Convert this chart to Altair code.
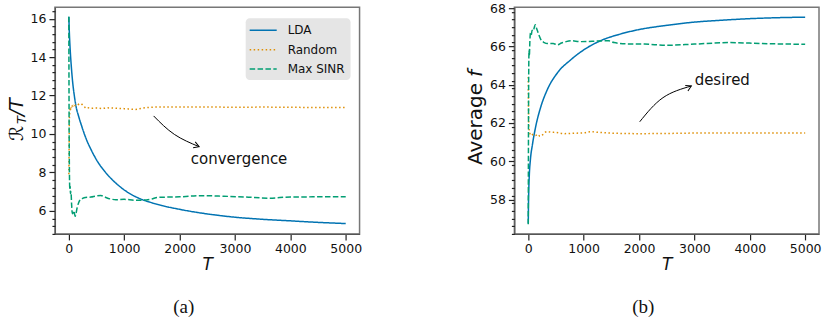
import altair as alt
import pandas as pd

SERIES = ["LDA", "Random", "Max SINR"]
COLORS = ["#0173B2", "#DE8F05", "#029E73"]
DASHES = [[1, 0], [1.5, 2.5], [5.5, 2.4]]

# ---------------- panel (a): R_T / T ----------------
a_lda_T = [1, 10, 25, 41, 70, 100, 130, 180, 240, 300, 400, 534, 650, 775, 900, 1015,
           1150, 1315, 1500, 1675, 2000, 2500, 3000, 3500, 4000, 4500, 5000]
a_lda_v = [16.1, 15.3, 14.4, 13.7, 12.7, 12.0, 11.45, 10.9, 10.35, 9.85, 9.2, 8.5,
           8.05, 7.65, 7.32, 7.06, 6.82, 6.6, 6.42, 6.28, 6.08, 5.84, 5.67, 5.56,
           5.48, 5.4, 5.34]

a_rnd_T = [1, 5, 10, 15, 20, 30, 40, 50, 60, 80, 100, 120, 150, 180, 220, 250, 280,
           320, 360, 400, 500, 600, 700, 800, 900, 1000, 1100, 1200, 1300, 1400, 1600,
           2000, 2500, 3000, 3500, 4000, 4500, 5000]
a_rnd_v = [7.9, 9.0, 10.6, 11.0, 11.2, 11.4, 11.3, 11.45, 11.35, 11.5, 11.42, 11.5,
           11.48, 11.55, 11.58, 11.5, 11.42, 11.33, 11.36, 11.34, 11.35, 11.33, 11.36,
           11.35, 11.33, 11.32, 11.3, 11.28, 11.33, 11.37, 11.4, 11.4, 11.41, 11.39,
           11.4, 11.39, 11.38, 11.38]

a_max_T = [1, 3, 6, 10, 15, 20, 25, 30, 40, 50, 60, 70, 85, 100, 115, 130, 150, 175,
           200, 250, 300, 400, 500, 580, 650, 750, 850, 1000, 1200, 1400, 1500, 1600,
           2000, 2400, 2800, 3200, 3600, 4000, 4500, 5000]
a_max_v = [16.1, 13.5, 10.5, 8.5, 7.4, 7.1, 7.3, 6.9, 7.0, 6.4, 5.95, 5.85, 6.0, 5.9,
           5.72, 5.85, 6.15, 6.4, 6.55, 6.65, 6.7, 6.72, 6.78, 6.8, 6.72, 6.62, 6.58,
           6.6, 6.55, 6.57, 6.62, 6.7, 6.73, 6.79, 6.76, 6.72, 6.66, 6.72, 6.73, 6.74]

# ---------------- panel (b): average f ----------------
b_lda_T = [1, 5, 10, 20, 40, 78, 138, 228, 348, 528, 768, 1008, 1308, 1668, 2000,
           2500, 3000, 3500, 4000, 4500, 5000]
b_lda_v = [56.74, 57.8, 58.5, 59.3, 60.1, 60.9, 61.85, 62.85, 63.76, 64.62, 65.3,
           65.83, 66.3, 66.65, 66.88, 67.1, 67.27, 67.37, 67.45, 67.5, 67.53]

b_rnd_T = [1, 3, 6, 10, 20, 40, 60, 80, 113, 140, 180, 210, 260, 300, 348, 400, 500,
           650, 800, 1000, 1135, 1300, 1490, 2000, 2500, 3000, 4000, 5000]
b_rnd_v = [64.4, 63.5, 62.5, 61.8, 61.6, 61.4, 61.45, 61.38, 61.33, 61.35, 61.4, 61.3,
           61.38, 61.5, 61.55, 61.52, 61.5, 61.44, 61.46, 61.48, 61.54, 61.5, 61.47,
           61.44, 61.45, 61.47, 61.48, 61.48]

b_max_T = [1, 5, 10, 15, 20, 30, 40, 55, 70, 90, 110, 128, 150, 180, 228, 290, 348,
           450, 528, 600, 650, 768, 950, 1250, 1450, 1550, 1800, 2100, 2500, 3000,
           3650, 4200, 5000]
b_max_v = [56.7, 62.0, 65.0, 65.8, 65.5, 66.3, 66.7, 66.6, 66.85, 66.8, 67.0, 67.13,
           66.95, 66.7, 66.36, 66.2, 66.15, 66.15, 66.08, 66.18, 66.22, 66.3, 66.25,
           66.28, 66.3, 66.2, 66.13, 66.12, 66.06, 66.12, 66.2, 66.15, 66.11]

# axes
x_domain = [-250, 5250]
x_ticks = [0, 1000, 2000, 3000, 4000, 5000]
a_domain = [4.8, 16.6]
a_ticks = [6, 8, 10, 12, 14, 16]
b_domain = [56.2, 68.05]
b_ticks = [58, 60, 62, 64, 66, 68]

# annotations (data coordinates)
a_arrow_T = [1532, 1906, 2353]
a_arrow_v = [10.94, 9.98, 9.34]
a_note = ["convergence"]
a_note_T = [2204]
a_note_v = [8.46]
b_arrow_T = [2013, 2433, 2945]
b_arrow_v = [62.06, 63.32, 63.93]
b_note = ["desired"]
b_note_T = [3005]
b_note_v = [63.98]
captions = ["(a)", "(b)"]

W, H = 305, 227
FONT = "DejaVu Sans"


def series_frame(parts):
    rows = []
    for name, T, v in parts:
        for t, y in zip(T, v):
            rows.append({"T": t, "v": y, "series": name})
    return pd.DataFrame(rows)


def minor_values(domain, major):
    vals = []
    k = 0
    while True:
        val = round(domain[0] + 0.4 * k, 2)
        if val > domain[1]:
            break
        if all(abs(val - m) > 1e-6 for m in major):
            vals.append(val)
        k += 1
    return vals


xscale = alt.Scale(domain=x_domain, nice=False, zero=False)
xaxis = alt.Axis(values=x_ticks, title="T", titleFontStyle="italic", titleFontSize=17,
                 titleFontWeight="normal", titlePadding=1, format="d")


def panel(parts, ydomain, yticks, arrow_T, arrow_v, head_angle, note, note_T, note_v,
          caption, legend, title_parts):
    yscale = alt.Scale(domain=ydomain, nice=False, zero=False)
    X = alt.X("T:Q", scale=xscale, axis=xaxis)
    df = series_frame(parts)
    color = alt.Color("series:N", scale=alt.Scale(domain=SERIES, range=COLORS),
                      sort=SERIES, legend=legend)
    dash = alt.StrokeDash("series:N", scale=alt.Scale(domain=SERIES, range=DASHES),
                          sort=SERIES, legend=legend)
    lines = alt.Chart(df).mark_line(strokeWidth=1.5, clip=True,
                                    interpolate="monotone").encode(
        x=X,
        y=alt.Y("v:Q", scale=yscale,
                axis=alt.Axis(values=yticks, title=None, format="d")),
        color=color,
        strokeDash=dash,
    )
    minor = alt.Chart(pd.DataFrame({"m": minor_values(ydomain, yticks)})).mark_tick(
        opacity=0).encode(
        y=alt.Y("m:Q", scale=yscale,
                axis=alt.Axis(values=minor_values(ydomain, yticks), orient="left",
                              labels=False, domain=False, tickSize=3, title=None)),
    )
    adf = pd.DataFrame({"T": arrow_T, "v": arrow_v})
    arrow = alt.Chart(adf).mark_line(color="black", strokeWidth=1,
                                     interpolate="natural").encode(
        x=X,
        y=alt.Y("v:Q", scale=yscale, axis=None),
    )
    head = alt.Chart(adf.tail(1)).mark_point(
        shape="M-1,-0.6L0,0L-1,0.6", filled=False, color="black", strokeWidth=1,
        size=110, angle=head_angle, opacity=1).encode(
        x=X,
        y=alt.Y("v:Q", scale=yscale, axis=None),
    )
    ndf = pd.DataFrame({"T": note_T, "v": note_v, "txt": note})
    text = alt.Chart(ndf).mark_text(align="left", baseline="alphabetic", fontSize=15,
                                    font=FONT, color="#111").encode(
        x=X,
        y=alt.Y("v:Q", scale=yscale, axis=None),
        text="txt:N",
    )
    cap = alt.Chart(pd.DataFrame({"c": [caption]})).mark_text(
        font="Liberation Serif", fontSize=19, color="#111", baseline="middle").encode(
        x=alt.value(129), y=alt.value(300.5), text="c:N")
    layers = [lines, minor, arrow, head, text, cap]
    for (txt, size, style, xpos, ypos) in title_parts:
        layers.append(
            alt.Chart(pd.DataFrame({"t": [txt]})).mark_text(
                angle=270, align="left", baseline="alphabetic", fontSize=size,
                fontStyle=style, font=FONT, color="#111").encode(
                x=alt.value(xpos), y=alt.value(ypos), text="t:N"))
    return alt.layer(*layers).resolve_axis(y="independent").properties(width=W, height=H)


legend = alt.Legend(orient="none", legendX=191, legendY=11, title=None,
                    symbolType="M-1.31,0L3.11,0", symbolSize=150, symbolStrokeWidth=1.5,
                    labelFontSize=12, labelFont=FONT, labelColor="#111",
                    fillColor="#e5e5e5", cornerRadius=4, padding=5, rowPadding=6.5,
                    labelOffset=23)

anchor = alt.Chart(pd.DataFrame({"a": [0]})).mark_rule(opacity=0, strokeWidth=0).encode(
    x=alt.value(-54), x2=alt.value(-54), y=alt.value(-6), y2=alt.value(0))

left = panel([("LDA", a_lda_T, a_lda_v), ("Random", a_rnd_T, a_rnd_v),
              ("Max SINR", a_max_T, a_max_v)],
             a_domain, a_ticks, a_arrow_T, a_arrow_v, 20, a_note, a_note_T, a_note_v,
             captions[0], legend,
             [("ℛ", 19, "normal", -32, 134), ("T", 13, "italic", -28.5, 117),
              ("/T", 19, "italic", -32, 109)])
left = alt.layer(left, anchor)

right = panel([("LDA", b_lda_T, b_lda_v), ("Random", b_rnd_T, b_rnd_v),
               ("Max SINR", b_max_T, b_max_v)],
              b_domain, b_ticks, b_arrow_T, b_arrow_v, 335, b_note, b_note_T, b_note_v,
              captions[1], None,
              [("Average", 20, "normal", -32, 158), ("f", 20, "italic", -32, 70)])

chart = alt.hconcat(left, right, spacing=155, bounds="flush").resolve_scale(
    color="independent", strokeDash="independent"
).properties(padding=0).configure_view(
    stroke="#777", strokeWidth=1.5
).configure_axis(
    grid=False, labelFont=FONT, labelFontSize=12.5, labelColor="#111", labelPadding=3,
    tickSize=6, tickWidth=1.2, tickColor="#222", domainColor="#555", domainWidth=1.2,
    titleFont=FONT, titleColor="#111"
)

chart.save("out.html", embed_options={"renderer": "svg", "actions": False})
